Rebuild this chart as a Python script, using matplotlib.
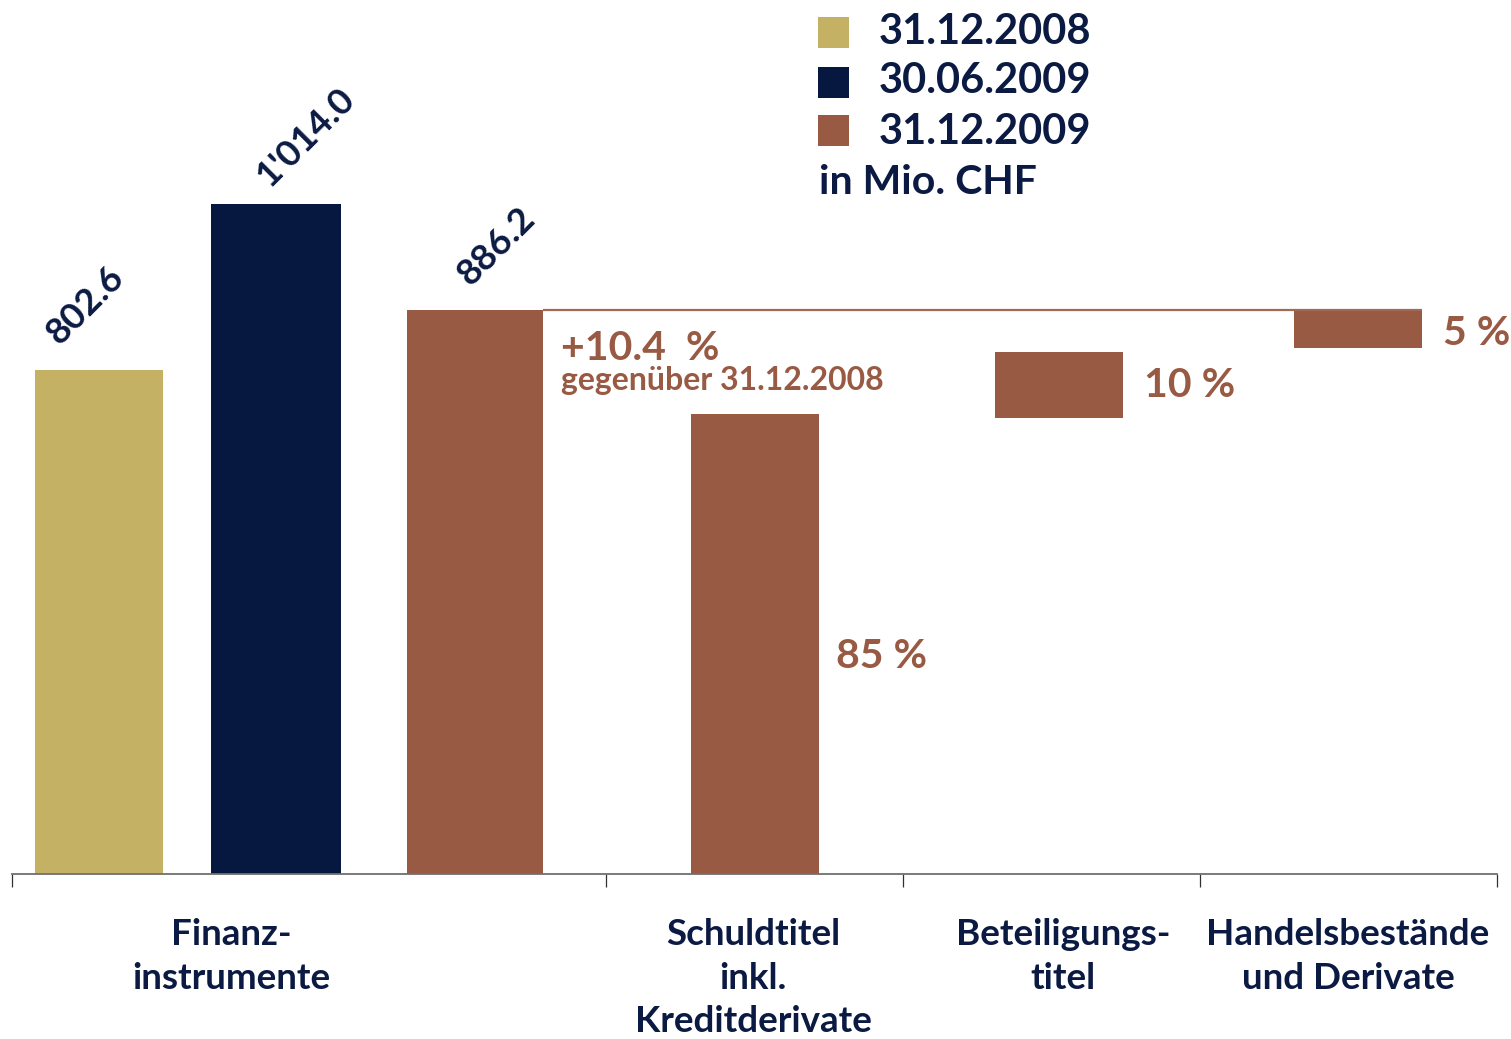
import matplotlib
matplotlib.use("Agg")
import matplotlib.pyplot as plt
from matplotlib.patches import Rectangle

plt.rcParams['font.family'] = ['Lato', 'DejaVu Sans']
plt.rcParams['font.weight'] = 'bold'

# ---------------- data ----------------
series_labels = ['31.12.2008', '30.06.2009', '31.12.2009']
series_colors = ['#C4B163', '#061840', '#985A43']
total_values = [802.6, 1014.0, 886.2]            # Mio. CHF (as labelled)
total_labels = ["802.6", "1'014.0", "886.2"]
total_drawn = [792.0, 1052.0, 886.2]               # bar heights as drawn

categories = ['Finanz-\ninstrumente', 'Schuldtitel\ninkl.\nKreditderivate',
              'Beteiligungs-\ntitel', 'Handelsbestände\nund Derivate']
share_labels = ['85 %', '10 %', '5 %']
share_bottom = [0.0, 717.0, 827.0]                 # floating breakdown bars (as drawn)
share_top = [723.0, 820.0, 886.2]

change_label = '+10.4  %'
change_sub = 'gegenüber 31.12.2008'
unit_label = 'in Mio. CHF'

NAVY_TXT = '#0B1A42'
BROWN = '#985A43'

# ---------------- figure ----------------
W, H = 1511, 1039
fig = plt.figure(figsize=(W / 100, H / 100), dpi=100)
ax = fig.add_axes([12 / W, 165 / H, 1485 / W, 874 / H])
ax.set_xlim(0, 5)
ax.set_ylim(0, 886.2 * 874 / 564)

# totals group
tot_x = [0.293, 0.889, 1.559]
tot_w = [0.431, 0.438, 0.458]
for x, w, h, c in zip(tot_x, tot_w, total_drawn, series_colors):
    ax.bar(x, h, width=w, color=c, linewidth=0, zorder=2)

# breakdown bars
br_x = [2.502, 3.525, 4.532]
br_w = 0.431
for x, b, t in zip(br_x, share_bottom, share_top):
    ax.bar(x, t - b, bottom=b, width=br_w, color=series_colors[2], linewidth=0, zorder=2)

# connector line at total level
ax.plot([tot_x[2] + tot_w[2] / 2, br_x[2] + br_w / 2], [total_drawn[2]] * 2,
        color='#A36955', lw=1.6, zorder=3, solid_capstyle='butt')

# axis styling
for s in ['top', 'right', 'left']:
    ax.spines[s].set_visible(False)
ax.spines['bottom'].set_color('#707070')
ax.spines['bottom'].set_linewidth(1.3)
ax.spines['bottom'].set_zorder(4)
ax.set_yticks([])
ax.set_xticks([0, 2, 3, 4, 5])
ax.set_xticklabels([])
ax.tick_params(axis='x', direction='out', length=9, width=0.9, color='#303030')

# category labels
cat_x = [0.737, 2.495, 3.539, 4.498]
for x, lab in zip(cat_x, categories):
    ax.annotate(lab, xy=(x, 0), xycoords=('data', 'axes fraction'),
                xytext=(0, -32), textcoords='offset points',
                ha='center', va='top', fontsize=26.5, color=NAVY_TXT,
                linespacing=1.38, fontweight='bold')

# rotated value labels
val_off = [(-13.5, 65), (30, 67), (21, 64)]
for x, h, lab, (dx, dy) in zip(tot_x, total_drawn, total_labels, val_off):
    ax.annotate(lab, xy=(x, h), xytext=(dx * 0.72, dy * 0.72), textcoords='offset points',
                ha='center', va='center', rotation=45, fontsize=26.5,
                color=NAVY_TXT, fontweight='bold')

# change annotation
ax.annotate(change_label, xy=(tot_x[2] + tot_w[2] / 2, total_drawn[2]),
            xytext=(18 * 0.72, -50 * 0.72), textcoords='offset points',
            ha='left', va='baseline', fontsize=29.5, color=BROWN, fontweight='bold')
ax.annotate(change_sub, xy=(tot_x[2] + tot_w[2] / 2, total_drawn[2]),
            xytext=(18 * 0.72, -80 * 0.72), textcoords='offset points',
            ha='left', va='baseline', fontsize=23, color=BROWN, fontweight='bold')

# share labels (dy: pixels downward from bar middle)
sh_off = [(17, 13), (21, 1), (21, 5)]
for x, b, t, lab, (dx, dy) in zip(br_x, share_bottom, share_top, share_labels, sh_off):
    ax.annotate(lab, xy=(x + br_w / 2, (b + t) / 2), xytext=(dx * 0.72, -dy * 0.72),
                textcoords='offset points', ha='left', va='center',
                fontsize=29.5, color=BROWN, fontweight='bold')

# legend (manual)
sq_top = [17, 67, 115]
base_y = [43.5, 93, 144]
for top, by, lab, c in zip(sq_top, base_y, series_labels, series_colors):
    fig.patches.append(Rectangle((818 / W, 1 - (top + 31) / H), 31 / W, 31 / H,
                                 transform=fig.transFigure, color=c, lw=0))
    fig.text(879 / W, 1 - by / H, lab, ha='left', va='baseline', fontsize=30,
             color=NAVY_TXT, fontweight='bold')
fig.text(819 / W, 1 - 193.5 / H, unit_label, ha='left', va='baseline', fontsize=29.5,
         color=NAVY_TXT, fontweight='bold')

fig.savefig('out.png', dpi=100, facecolor='white')
